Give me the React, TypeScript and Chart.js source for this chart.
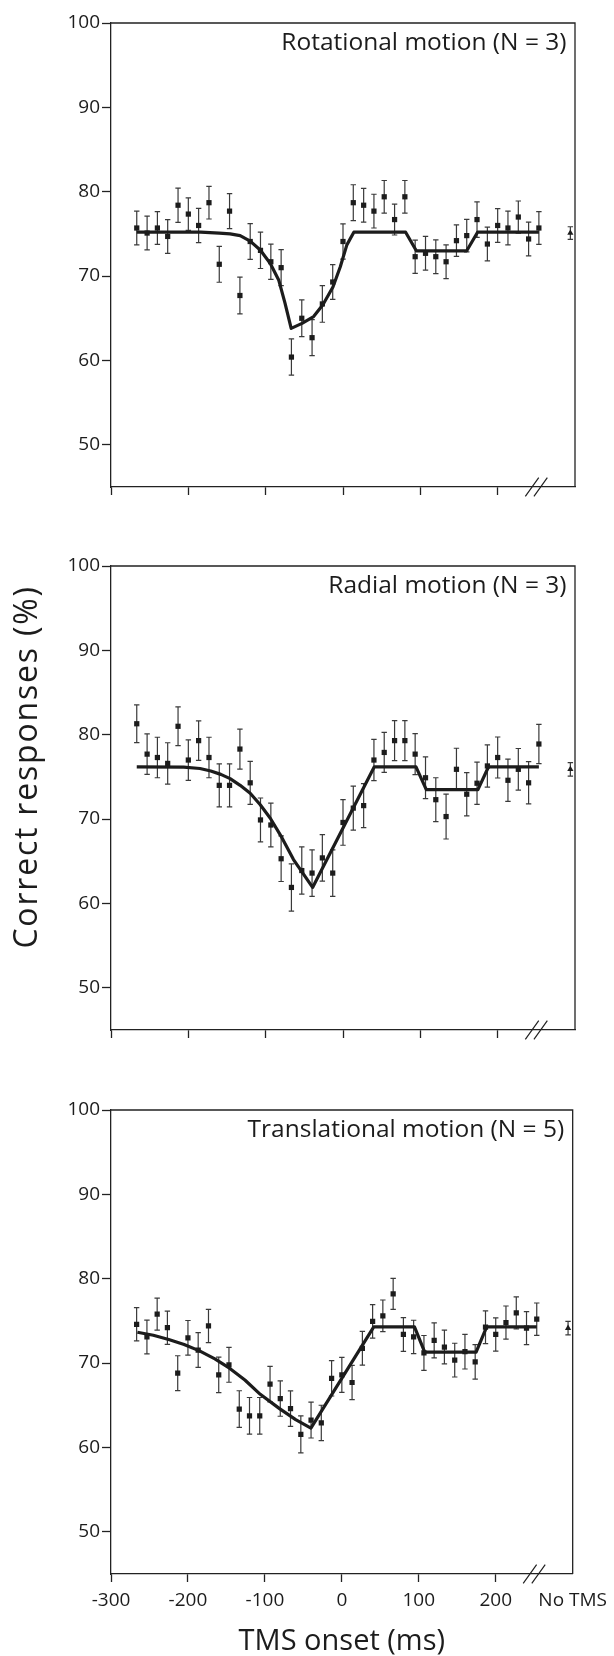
import React, { useEffect, useRef } from "react";
import { Chart, registerables } from "chart.js";

Chart.register(...registerables);

// ---------------- data ----------------
const onsetMs = [
  -266.7, -253.3, -240, -226.7, -213.3, -200, -186.7, -173.3, -160, -146.7,
  -133.3, -120, -106.7, -93.3, -80, -66.7, -53.3, -40, -26.7, -13.3,
  0, 13.3, 26.7, 40, 53.3, 66.7, 80, 93.3, 106.7, 120,
  133.3, 146.7, 160, 173.3, 186.7, 200, 213.3, 226.7, 240, 253.3,
];

const rotValues = [
  75.7, 75.1, 75.7, 74.7, 78.4, 77.35, 76.0, 78.7, 71.4, 77.7,
  67.7, 74.1, 73.05, 71.7, 71.0, 60.4, 65.0, 62.7, 66.7, 69.3,
  74.1, 78.7, 78.4, 77.7, 79.4, 76.7, 79.4, 72.3, 72.7, 72.3,
  71.7, 74.2, 74.8, 76.7, 73.8, 76.0, 75.7, 77.0, 74.4, 75.7,
];
const rotErrors = [
  2.0, 2.0, 1.95, 2.0, 2.03, 1.93, 2.03, 1.93, 2.13, 2.07,
  2.17, 2.13, 2.15, 2.1, 2.13, 2.15, 2.17, 2.13, 2.17, 2.07,
  2.1, 2.13, 2.0, 2.0, 1.93, 1.83, 1.93, 1.97, 2.0, 2.0,
  2.0, 1.86, 1.93, 2.1, 2.0, 2.0, 2.0, 1.9, 2.0, 1.93,
];
const rotFitX = [-266.7, -184, -160, -146, -133, -120, -107, -94, -83, -75, -67, -53, -38, -26, -13, -3.5, 5, 14, 81, 94.8, 160, 174, 253.3];
const rotFitY = [75.2, 75.2, 75.1, 75.0, 74.8, 74.15, 73.1, 71.5, 69.5, 66.8, 63.8, 64.4, 65.2, 66.6, 68.7, 71.1, 73.7, 75.2, 75.2, 73.0, 73.0, 75.2, 75.2];

const radValues = [
  81.3, 77.7, 77.3, 76.6, 81.0, 77.0, 79.3, 77.3, 74.0, 74.0,
  78.3, 74.3, 69.9, 69.3, 65.3, 61.9, 63.9, 63.6, 65.4, 63.6,
  69.6, 71.3, 71.6, 77.0, 77.9, 79.3, 79.3, 77.7, 74.9, 72.3,
  70.3, 75.9, 72.95, 74.25, 76.3, 77.3, 74.6, 75.9, 74.3, 78.9,
];
const radErrors = [
  2.23, 2.4, 2.4, 2.45, 2.3, 2.4, 2.35, 2.4, 2.55, 2.55,
  2.37, 2.55, 2.6, 2.6, 2.7, 2.8, 2.8, 2.75, 2.75, 2.75,
  2.7, 2.6, 2.6, 2.45, 2.37, 2.37, 2.37, 2.43, 2.47, 2.6,
  2.66, 2.5, 2.56, 2.5, 2.5, 2.43, 2.5, 2.47, 2.5, 2.33,
];
const radFitX = [-266.7, -206, -185, -171, -158, -146, -133, -120, -107, -94, -79, -64, -39.3, 40.5, 94.4, 107.7, 174.5, 188.2, 253.3];
const radFitY = [76.2, 76.15, 76.0, 75.7, 75.3, 74.8, 74.0, 73.06, 71.7, 70.1, 67.8, 65.2, 61.9, 76.2, 76.2, 73.5, 73.5, 76.2, 76.2];

const traValues = [
  74.6, 73.1, 75.8, 74.2, 68.8, 73.0, 71.55, 74.4, 68.6, 69.8,
  64.55, 63.75, 63.75, 67.5, 65.8, 64.6, 61.55, 63.25, 62.9, 68.2,
  68.6, 67.7, 71.75, 74.95, 75.6, 78.2, 73.4, 73.1, 71.2, 72.7,
  71.9, 70.35, 71.35, 70.15, 74.25, 73.4, 74.8, 75.95, 74.15, 75.2,
];
const traErrors = [
  1.97, 2.0, 1.9, 1.97, 2.07, 2.05, 2.05, 1.97, 2.1, 2.07,
  2.17, 2.17, 2.17, 2.1, 2.1, 2.1, 2.2, 2.13, 2.1, 2.1,
  2.07, 2.03, 2.0, 1.98, 1.88, 1.84, 2.0, 1.98, 2.07, 2.07,
  2.0, 2.0, 2.05, 2.05, 1.94, 1.97, 1.97, 1.9, 1.96, 1.92,
];
const traFitX = [-265.7, -245, -225, -205, -185, -165, -146, -126, -106, -81, -60, -40.2, 41.5, 94.4, 107.7, 174.5, 188.2, 253.3];
const traFitY = [73.65, 73.3, 72.8, 72.2, 71.45, 70.5, 69.4, 68.0, 66.3, 64.6, 63.3, 62.3, 74.3, 74.3, 71.3, 71.3, 74.3, 74.3];

const noTmsX = 294;
const noTmsValues = [75.1, 75.9, 74.15];
const noTmsErrors = [0.75, 0.8, 0.8];

const panelTitles = ["Rotational motion (N = 3)", "Radial motion (N = 3)", "Translational motion (N = 5)"];
const xTickValues = [-300, -200, -100, 0, 100, 200, 300];
const xTickLabels = ["-300", "-200", "-100", "0", "100", "200", "No TMS"];
const yTickValues = [50, 60, 70, 80, 90, 100];
const xAxisTitle = "TMS onset (ms)";
const yAxisTitle = "Correct responses (%)";
const breakAt = 250;

// ---------------- style ----------------
const FONT = "'Open Sans', Lato, sans-serif";
const INK = "#1c1c1c";
const AXIS = "#222222";

const errorBarPlugin = {
  id: "errorBars",
  beforeDatasetsDraw(chart: any) {
    const { ctx } = chart;
    const x = chart.scales.x;
    const y = chart.scales.y;
    chart.data.datasets.forEach((ds: any) => {
      if (!ds.errorBars) return;
      ctx.save();
      ctx.strokeStyle = "#3a3a3a";
      ctx.lineWidth = 1.2;
      ds.data.forEach((p: any, i: number) => {
        const e = ds.errorBars[i];
        const px = x.getPixelForValue(p.x);
        const t = y.getPixelForValue(p.y + e);
        const b = y.getPixelForValue(p.y - e);
        ctx.beginPath();
        ctx.moveTo(px, t);
        ctx.lineTo(px, b);
        ctx.moveTo(px - 2.7, t);
        ctx.lineTo(px + 2.7, t);
        ctx.moveTo(px - 2.7, b);
        ctx.lineTo(px + 2.7, b);
        ctx.stroke();
      });
      ctx.restore();
    });
  },
};

const decoPlugin = {
  id: "deco",
  afterDraw(chart: any, _args: any, opts: any) {
    const { ctx, chartArea: a } = chart;
    const x = chart.scales.x;
    ctx.save();
    ctx.strokeStyle = AXIS;
    ctx.lineWidth = 1.3;
    ctx.beginPath();
    ctx.moveTo(a.left, a.top);
    ctx.lineTo(a.right, a.top);
    ctx.lineTo(a.right, a.bottom);
    ctx.stroke();
    // axis break
    const bx = x.getPixelForValue(breakAt);
    ctx.lineWidth = 1.2;
    ctx.beginPath();
    [-4.3, 4.3].forEach((off) => {
      ctx.moveTo(bx + off - 6.7, a.bottom + 9.3);
      ctx.lineTo(bx + off + 6.7, a.bottom - 9.3);
    });
    ctx.stroke();
    // panel title
    ctx.fillStyle = INK;
    ctx.font = `24.5px ${FONT}`;
    ctx.textAlign = "right";
    ctx.textBaseline = "alphabetic";
    ctx.fillText(opts.title, a.right - 8.5, a.top + 26.7);
    if (opts.yTitle) {
      ctx.save();
      ctx.translate(37, opts.yTitleY);
      ctx.rotate(-Math.PI / 2);
      ctx.font = `32px ${FONT}`;
      (ctx as any).letterSpacing = "1.8px";
      ctx.textAlign = "center";
      ctx.fillText(opts.yTitle, 0, 0);
      ctx.restore();
    }
    ctx.restore();
  },
};

type PanelCfg = {
  title: string;
  values: number[];
  errors: number[];
  fitX: number[];
  fitY: number[];
  noTms: number;
  noTmsErr: number;
  top: number;
  height: number;
  padTop: number;
  xAxisH: number;
  xLabels: boolean;
  yTitle: string | null;
};

const panels: PanelCfg[] = [
  { title: panelTitles[0], values: rotValues, errors: rotErrors, fitX: rotFitX, fitY: rotFitY, noTms: noTmsValues[0], noTmsErr: noTmsErrors[0], top: 0, height: 543, padTop: 23, xAxisH: 56, xLabels: false, yTitle: null },
  { title: panelTitles[1], values: radValues, errors: radErrors, fitX: radFitX, fitY: radFitY, noTms: noTmsValues[1], noTmsErr: noTmsErrors[1], top: 543, height: 543, padTop: 23, xAxisH: 56, xLabels: false, yTitle: yAxisTitle },
  { title: panelTitles[2], values: traValues, errors: traErrors, fitX: traFitX, fitY: traFitY, noTms: noTmsValues[2], noTmsErr: noTmsErrors[2], top: 1086, height: 570, padTop: 24, xAxisH: 82, xLabels: true, yTitle: null },
];

function Panel({ cfg }: { cfg: PanelCfg }) {
  const ref = useRef<HTMLCanvasElement>(null);
  useEffect(() => {
    const canvas = ref.current!;
    const chart = new Chart(canvas, {
      type: "scatter",
      data: {
        datasets: [
          {
            data: onsetMs.map((t, i) => ({ x: t, y: cfg.values[i] })),
            errorBars: cfg.errors,
            pointStyle: "rect",
            pointRadius: 3.7,
            pointBorderWidth: 0,
            backgroundColor: INK,
            borderColor: INK,
            showLine: false,
          } as any,
          {
            data: [{ x: noTmsX, y: cfg.noTms }],
            errorBars: [cfg.noTmsErr],
            pointStyle: "triangle",
            pointRadius: 3.6,
            pointBorderWidth: 0,
            backgroundColor: INK,
            borderColor: INK,
            showLine: false,
          } as any,
          {
            data: cfg.fitX.map((t, i) => ({ x: t, y: cfg.fitY[i] })),
            showLine: true,
            borderColor: INK,
            borderWidth: 3.2,
            pointRadius: 0,
            tension: 0,
            borderJoinStyle: "round",
          } as any,
        ],
      },
      options: {
        responsive: false,
        animation: false,
        events: [],
        layout: { padding: { top: cfg.padTop, right: 39, left: 0, bottom: 0 } },
        plugins: {
          legend: { display: false },
          tooltip: { enabled: false },
          deco: { title: cfg.title, yTitle: cfg.yTitle, yTitleY: 767 - cfg.top },
        } as any,
        scales: {
          x: {
            type: "linear",
            min: -300,
            max: 300,
            afterBuildTicks: (s: any) => {
              s.ticks = xTickValues.map((v) => ({ value: v }));
            },
            afterFit: (s: any) => {
              s.height = cfg.xAxisH;
            },
            grid: {
              drawOnChartArea: false,
              drawTicks: true,
              tickLength: 8,
              tickWidth: 1.3,
              tickColor: (c: any) => (c.tick && c.tick.value === 300 ? "rgba(0,0,0,0)" : AXIS),
            },
            border: { display: true, color: AXIS, width: 1.3 },
            ticks: {
              display: cfg.xLabels,
              autoSkip: false,
              maxRotation: 0,
              padding: 7,
              color: INK,
              font: { family: FONT, size: 19 },
              callback: (v: any) => xTickLabels[xTickValues.indexOf(Number(v))],
            },
            title: {
              display: cfg.xLabels,
              text: xAxisTitle,
              color: INK,
              font: { family: FONT, size: 29, lineHeight: 1 },
              padding: { top: 0, bottom: 0 },
            },
          },
          y: {
            type: "linear",
            min: 45,
            max: 100,
            afterBuildTicks: (s: any) => {
              s.ticks = yTickValues.map((v) => ({ value: v }));
            },
            afterFit: (s: any) => {
              s.width = 111;
            },
            grid: {
              drawOnChartArea: false,
              drawTicks: true,
              tickLength: 9,
              tickWidth: 1.3,
              tickColor: AXIS,
            },
            border: { display: true, color: AXIS, width: 1.3 },
            ticks: {
              padding: 2,
              color: INK,
              font: { family: FONT, size: 19 },
            },
          },
        },
      } as any,
      plugins: [errorBarPlugin, decoPlugin] as any,
    });
    return () => chart.destroy();
  }, [cfg]);
  return (
    <canvas
      ref={ref}
      width={614}
      height={cfg.height}
      style={{ position: "absolute", left: 0, top: cfg.top, width: 614, height: cfg.height, display: "block" }}
    />
  );
}

export default function App() {
  return (
    <div style={{ position: "absolute", left: 0, top: 0, width: 614, height: 1656, background: "#ffffff", overflow: "hidden" }}>
      {panels.map((p, i) => (
        <Panel key={i} cfg={p} />
      ))}
    </div>
  );
}
